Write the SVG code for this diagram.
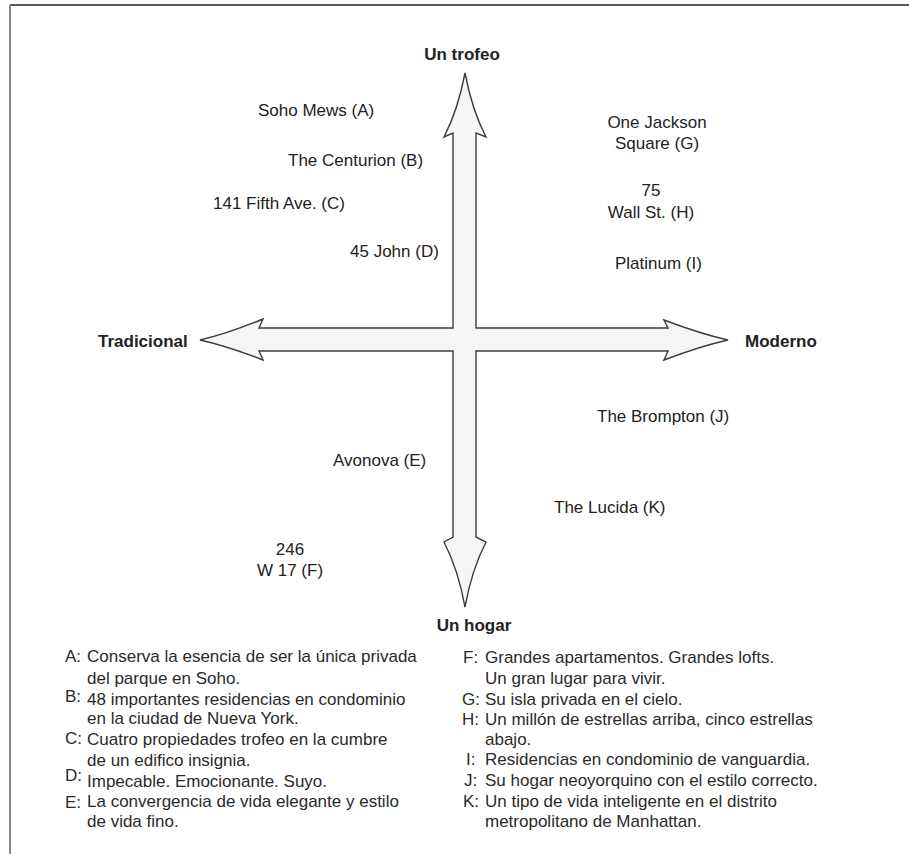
<svg xmlns="http://www.w3.org/2000/svg" width="909" height="854" viewBox="0 0 909 854">
<style>
  .lbl { font-family: "Liberation Sans", Arial, sans-serif; font-size: 17px; fill: #222; }
  .axis { font-family: "Liberation Sans", Arial, sans-serif; font-size: 17px; font-weight: bold; fill: #222; }
  .leg { font-family: "Liberation Sans", Arial, sans-serif; font-size: 17px; fill: #2a2a2a; }
  .cross { fill: #f5f6f6; stroke: #3c3c3c; stroke-width: 1.4; stroke-linejoin: miter; }
</style>
<rect x="0" y="0" width="909" height="854" fill="#ffffff"/>
<g id="frame">
  <line x1="10" y1="5" x2="909" y2="5" stroke="#222" stroke-width="1.3"/>
  <line x1="10" y1="5" x2="10" y2="854" stroke="#888" stroke-width="2"/>
</g>
<g id="connectors">
  <path class="cross" d="M465,73 Q472,110 486,137 L476,133 L476,328 L668,328 L664,320 Q701,334 728,340 Q701,346 664,360 L668,351 L476,351 L476,537 L486,542 Q472,569 465,607 Q458,569 444,542 L453,537 L453,351 L259,351 L263,360 Q227,346 200,340 Q227,334 263,319 L259,328 L453,328 L453,133 L444,137 Q458,110 465,73 Z"/>
</g>
<g id="axis-top"><text class="axis" x="462" y="60" text-anchor="middle">Un trofeo</text></g>
<g id="axis-left"><text class="axis" x="98" y="347">Tradicional</text></g>
<g id="axis-right"><text class="axis" x="745" y="347">Moderno</text></g>
<g id="axis-bottom"><text class="axis" x="474" y="631" text-anchor="middle">Un hogar</text></g>

<g id="node-A"><text class="lbl" x="258" y="116">Soho Mews (A)</text></g>
<g id="node-B"><text class="lbl" x="288" y="166">The Centurion (B)</text></g>
<g id="node-C"><text class="lbl" x="213" y="209">141 Fifth Ave. (C)</text></g>
<g id="node-D"><text class="lbl" x="350" y="257">45 John (D)</text></g>
<g id="node-E"><text class="lbl" x="333" y="466">Avonova (E)</text></g>
<g id="node-F"><text class="lbl" x="290" y="555" text-anchor="middle">246</text><text class="lbl" x="290" y="576" text-anchor="middle">W 17 (F)</text></g>
<g id="node-G"><text class="lbl" x="657" y="128" text-anchor="middle">One Jackson</text><text class="lbl" x="657" y="149" text-anchor="middle">Square (G)</text></g>
<g id="node-H"><text class="lbl" x="651" y="196" text-anchor="middle">75</text><text class="lbl" x="651" y="218" text-anchor="middle">Wall St. (H)</text></g>
<g id="node-I"><text class="lbl" x="615" y="269">Platinum (I)</text></g>
<g id="node-J"><text class="lbl" x="597" y="422">The Brompton (J)</text></g>
<g id="node-K"><text class="lbl" x="554" y="513">The Lucida (K)</text></g>

<g id="legend-left">
  <text class="leg" x="65" y="662">A:</text>
  <text class="leg" x="87" y="662">Conserva la esencia de ser la única privada</text>
  <text class="leg" x="87" y="684">del parque en Soho.</text>
  <text class="leg" x="65" y="702">B:</text>
  <text class="leg" x="87" y="705">48 importantes residencias en condominio</text>
  <text class="leg" x="87" y="724">en la ciudad de Nueva York.</text>
  <text class="leg" x="65" y="744">C:</text>
  <text class="leg" x="87" y="745">Cuatro propiedades trofeo en la cumbre</text>
  <text class="leg" x="87" y="766">de un edifico insignia.</text>
  <text class="leg" x="65" y="781">D:</text>
  <text class="leg" x="87" y="787">Impecable. Emocionante. Suyo.</text>
  <text class="leg" x="65" y="808">E:</text>
  <text class="leg" x="87" y="807">La convergencia de vida elegante y estilo</text>
  <text class="leg" x="87" y="827">de vida fino.</text>
</g>
<g id="legend-right">
  <text class="leg" x="463" y="663">F:</text>
  <text class="leg" x="485" y="663">Grandes apartamentos. Grandes lofts.</text>
  <text class="leg" x="485" y="684">Un gran lugar para vivir.</text>
  <text class="leg" x="462" y="705">G:</text>
  <text class="leg" x="485" y="705">Su isla privada en el cielo.</text>
  <text class="leg" x="462" y="725">H:</text>
  <text class="leg" x="485" y="725">Un millón de estrellas arriba, cinco estrellas</text>
  <text class="leg" x="485" y="745">abajo.</text>
  <text class="leg" x="466" y="765">I:</text>
  <text class="leg" x="485" y="765">Residencias en condominio de vanguardia.</text>
  <text class="leg" x="464" y="786">J:</text>
  <text class="leg" x="485" y="786">Su hogar neoyorquino con el estilo correcto.</text>
  <text class="leg" x="463" y="807">K:</text>
  <text class="leg" x="485" y="807">Un tipo de vida inteligente en el distrito</text>
  <text class="leg" x="485" y="827">metropolitano de Manhattan.</text>
</g>
</svg>
